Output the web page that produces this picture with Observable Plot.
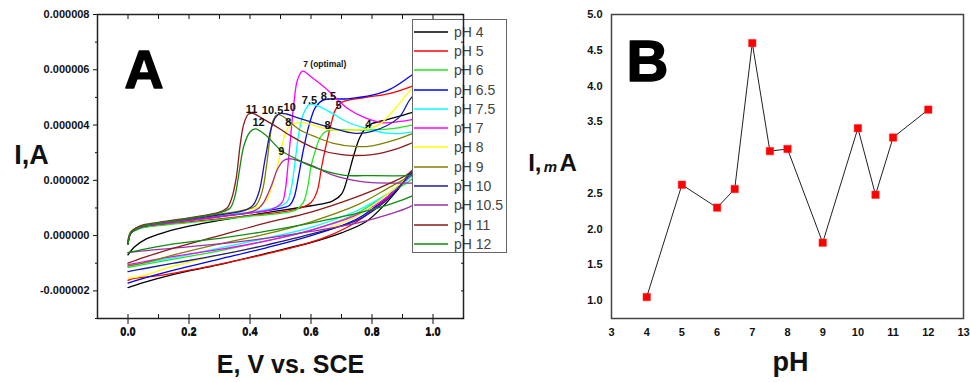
<!DOCTYPE html>
<html><head><meta charset="utf-8">
<script src="https://cdn.jsdelivr.net/npm/d3@7"></script>
<script src="https://cdn.jsdelivr.net/npm/@observablehq/plot@0.6"></script>
<style>
body{margin:0;background:#fff;}
#wrap{position:relative;width:970px;height:382px;overflow:hidden;font-family:"Liberation Sans",Arial,sans-serif;}
#wrap > *{position:absolute;}
#legend{left:412px;top:19px;width:95px;height:234px;border:1px solid #666;background:#fff;box-sizing:border-box;padding-top:2px;}
.lrow{height:19.3px;display:flex;align-items:center;font-size:14px;color:#444;}
.lrow svg{margin-left:1px;margin-right:6px;}
</style></head><body><div id="wrap"></div>
<script>
// ---------- Panel A data (current in µA, potential in V) ----------
const seriesNames = ["pH 4","pH 5","pH 6","pH 6.5","pH 7.5","pH 7","pH 8","pH 9","pH 10","pH 10.5","pH 11","pH 12"];
const seriesColors = ["#000000","#ff0000","#22e622","#0000ff","#00ffff","#ff00ff","#ffff00","#808000","#1a1aa0","#9b30a8","#8b1a1a","#108c10"];

const fwd_pH4 = [[0,-0.7],[0.02,-0.42],[0.06,-0.12],[0.12,0.12],[0.2,0.34],[0.3,0.55],[0.45,0.82],[0.6,1.08],[0.67,1.25],[0.7,1.5],[0.72,2.1],[0.74,2.9],[0.76,3.55],[0.78,3.9],[0.8,4.05],[0.85,4.2],[0.93,4.45],[1.0,4.7]];
const fwd_pH5 = [[0,-0.2],[0.01,0.1],[0.04,0.28],[0.1,0.38],[0.2,0.5],[0.3,0.6],[0.4,0.72],[0.5,0.85],[0.56,0.98],[0.6,1.2],[0.62,1.6],[0.635,2.5],[0.65,3.3],[0.665,4.0],[0.68,4.55],[0.7,4.82],[0.78,5.0],[0.86,5.15],[0.93,5.4],[1.0,5.7]];
const fwd_pH6 = [[0,-0.25],[0.01,0.08],[0.04,0.25],[0.1,0.36],[0.2,0.47],[0.3,0.58],[0.4,0.7],[0.5,0.8],[0.55,0.92],[0.575,1.2],[0.59,1.8],[0.6,2.5],[0.615,3.1],[0.63,3.55],[0.65,3.78],[0.68,3.83],[0.75,3.82],[0.85,3.85],[0.93,4.0],[1.0,4.2]];
const fwd_pH6_5 = [[0,-0.3],[0.01,0.1],[0.04,0.3],[0.1,0.42],[0.2,0.55],[0.3,0.68],[0.4,0.82],[0.48,0.95],[0.53,1.1],[0.545,1.4],[0.56,2.2],[0.575,3.1],[0.595,4.05],[0.615,4.65],[0.64,4.9],[0.72,4.95],[0.8,5.08],[0.86,5.3],[0.93,5.8],[1.0,6.3]];
const fwd_pH7_5 = [[0,-0.2],[0.01,0.15],[0.04,0.32],[0.1,0.45],[0.2,0.58],[0.3,0.72],[0.4,0.85],[0.48,1.0],[0.52,1.2],[0.535,1.7],[0.548,2.7],[0.56,3.7],[0.575,4.4],[0.595,4.75],[0.62,4.7],[0.67,4.42],[0.72,4.1],[0.78,3.88],[0.84,3.72],[0.9,3.7],[0.93,3.75],[1.0,3.9]];
const fwd_pH7 = [[0,-0.3],[0.01,0.1],[0.04,0.3],[0.1,0.42],[0.2,0.55],[0.3,0.68],[0.4,0.82],[0.47,0.95],[0.505,1.2],[0.515,1.6],[0.525,2.6],[0.535,3.8],[0.545,4.9],[0.555,5.6],[0.572,5.95],[0.6,5.75],[0.646,5.35],[0.72,4.6],[0.78,4.25],[0.84,4.08],[0.886,4.12],[0.93,4.2],[1.0,4.4]];
const fwd_pH8 = [[0,-0.2],[0.01,0.15],[0.04,0.32],[0.1,0.45],[0.2,0.6],[0.3,0.76],[0.38,0.9],[0.43,1.05],[0.455,1.3],[0.47,1.7],[0.483,2.2],[0.5,3.0],[0.51,3.5],[0.525,3.9],[0.545,4.05],[0.58,4.08],[0.62,3.95],[0.667,3.83],[0.75,3.82],[0.8,3.9],[0.83,4.07],[0.86,4.4],[0.886,4.73],[0.93,5.3],[1.0,5.9]];
const fwd_pH9 = [[0,-0.2],[0.01,0.15],[0.04,0.32],[0.1,0.45],[0.2,0.6],[0.3,0.78],[0.38,0.92],[0.42,1.1],[0.44,1.6],[0.455,2.6],[0.465,3.5],[0.475,4.15],[0.49,4.38],[0.51,4.3],[0.56,3.85],[0.62,3.55],[0.67,3.35],[0.75,3.22],[0.8,3.25],[0.886,3.5],[0.93,3.68],[1.0,4.0]];
const fwd_pH10 = [[0,-0.3],[0.01,0.1],[0.04,0.3],[0.1,0.44],[0.2,0.58],[0.3,0.75],[0.38,0.9],[0.41,1.1],[0.43,1.6],[0.45,2.8],[0.47,3.9],[0.485,4.3],[0.5,4.42],[0.52,4.4],[0.56,4.25],[0.667,3.9],[0.744,3.7],[0.8,3.77],[0.886,4.25],[0.93,5.0],[1.0,5.6]];
const fwd_pH10_5 = [[0,-0.2],[0.01,0.12],[0.04,0.3],[0.1,0.42],[0.2,0.56],[0.3,0.7],[0.4,0.85],[0.43,1.0],[0.445,1.2],[0.47,1.8],[0.49,2.4],[0.51,2.72],[0.53,2.78],[0.56,2.7],[0.6,2.55],[0.67,2.2],[0.75,1.98],[0.8,1.92],[0.9,1.9],[0.93,1.9],[1.0,2.0]];
const fwd_pH11 = [[0,-0.3],[0.01,0.12],[0.04,0.35],[0.1,0.48],[0.2,0.64],[0.3,0.85],[0.325,1.0],[0.34,1.35],[0.355,2.1],[0.368,3.3],[0.38,4.05],[0.395,4.4],[0.41,4.42],[0.45,4.18],[0.5,3.85],[0.526,3.66],[0.613,3.16],[0.7,2.93],[0.8,2.93],[0.886,3.16],[0.93,3.35],[1.0,3.7]];
const fwd_pH12 = [[0,-0.3],[0.01,0.1],[0.04,0.32],[0.1,0.46],[0.2,0.62],[0.3,0.82],[0.335,1.0],[0.35,1.4],[0.363,2.2],[0.38,3.25],[0.4,3.75],[0.417,3.86],[0.45,3.65],[0.5,3.1],[0.55,2.78],[0.59,2.56],[0.7,2.2],[0.8,2.17],[0.93,2.17],[1.0,2.2]];

const rev_pH4 = [[1.0,4.7],[0.96,2.6],[0.92,2.15],[0.88,1.6],[0.84,1.1],[0.78,0.5],[0.7,0.1],[0.6,-0.25],[0.45,-0.65],[0.3,-1.05],[0.15,-1.4],[0.05,-1.7],[0,-1.88]];
const rev_pH5 = [[1.0,5.7],[0.96,2.6],[0.92,2.1],[0.85,1.35],[0.75,0.5],[0.65,-0.05],[0.55,-0.4],[0.4,-0.8],[0.25,-1.15],[0.1,-1.45],[0.02,-1.55],[0,-1.62]];
const rev_pH6 = [[1.0,4.2],[0.96,2.4],[0.92,1.95],[0.85,1.5],[0.75,0.8],[0.6,0.2],[0.45,-0.2],[0.3,-0.55],[0.15,-0.85],[0.05,-1.05],[0,-1.15]];
const rev_pH6_5 = [[1.0,6.3],[0.96,2.7],[0.92,2.2],[0.85,1.4],[0.75,0.6],[0.6,0.0],[0.45,-0.45],[0.3,-0.85],[0.15,-1.25],[0.05,-1.55],[0,-1.72]];
const rev_pH7_5 = [[1.0,3.9],[0.96,2.5],[0.92,2.05],[0.85,1.5],[0.75,0.9],[0.6,0.3],[0.45,-0.1],[0.3,-0.45],[0.15,-0.8],[0.05,-1.0],[0,-1.1]];
const rev_pH7 = [[1.0,4.4],[0.96,2.55],[0.92,2.1],[0.85,1.4],[0.75,0.75],[0.6,0.2],[0.45,-0.2],[0.3,-0.5],[0.15,-0.75],[0.05,-0.95],[0,-1.05]];
const rev_pH8 = [[1.0,5.9],[0.96,2.6],[0.92,2.15],[0.85,1.5],[0.75,0.7],[0.6,0.05],[0.45,-0.35],[0.3,-0.7],[0.15,-1.1],[0.05,-1.45],[0,-1.55]];
const rev_pH9 = [[1.0,4.0],[0.96,2.55],[0.92,2.15],[0.85,1.7],[0.75,1.1],[0.6,0.5],[0.45,0.05],[0.3,-0.3],[0.15,-0.7],[0.05,-1.0],[0,-1.1]];
const rev_pH10 = [[1.0,5.6],[0.96,2.6],[0.92,2.15],[0.85,1.3],[0.75,0.55],[0.6,0.05],[0.45,-0.35],[0.3,-0.7],[0.15,-1.0],[0.05,-1.2],[0,-1.3]];
const rev_pH10_5 = [[1.0,2.0],[0.96,1.3],[0.92,1.02],[0.85,0.75],[0.75,0.45],[0.6,0.15],[0.45,-0.1],[0.3,-0.3],[0.15,-0.45],[0.05,-0.55],[0,-0.62]];
const rev_pH11 = [[1.0,3.7],[0.96,2.7],[0.92,2.25],[0.85,1.85],[0.75,1.4],[0.6,0.85],[0.45,0.45],[0.3,0.0],[0.15,-0.45],[0.05,-0.8],[0,-1.0]];
const rev_pH12 = [[1.0,2.2],[0.96,1.6],[0.92,1.38],[0.85,1.1],[0.75,0.8],[0.6,0.45],[0.45,0.15],[0.3,-0.1],[0.15,-0.3],[0.05,-0.5],[0,-0.62]];

const forwardScans = [fwd_pH4,fwd_pH5,fwd_pH6,fwd_pH6_5,fwd_pH7_5,fwd_pH7,fwd_pH8,fwd_pH9,fwd_pH10,fwd_pH10_5,fwd_pH11,fwd_pH12];
const reverseScans = [rev_pH4,rev_pH5,rev_pH6,rev_pH6_5,rev_pH7_5,rev_pH7,rev_pH8,rev_pH9,rev_pH10,rev_pH10_5,rev_pH11,rev_pH12];

const peakLabels = ["8.5","5","7.5","10","10.5","11","12","8","8","4","9"];
const peakLabelE = [0.657,0.69,0.595,0.53,0.474,0.405,0.428,0.526,0.654,0.788,0.503];
const peakLabelI = [5.04,4.71,4.9,4.64,4.53,4.56,4.09,4.1,3.98,4.02,3.04];
const optimalLabel = ["7 (optimal)"];
const optimalE = [0.645];
const optimalI = [6.2];

const aXMajor = [0,0.2,0.4,0.6,0.8,1.0];
const aXMinor = [-0.1,0.1,0.3,0.5,0.7,0.9];
const aXTickLabels = ["0.0","0.2","0.4","0.6","0.8","1.0"];
const aYMajor = [-2,0,2,4,6,8];
const aYMinor = [-3,-1,1,3,5,7];
const aYTickLabels = ["-0.000002","0.000000","0.000002","0.000004","0.000006","0.000008"];

// ---------- Panel B data ----------
const bPH = [4,5,6,6.5,7,7.5,8,9,10,10.5,11,12];
const bCurrent = [1.05,2.62,2.30,2.56,4.60,3.09,3.12,1.81,3.41,2.48,3.28,3.67];
const bXTicks = [3,4,5,6,7,8,9,10,11,12,13];
const bYTicks = [1.0,1.5,2.0,2.5,3.5,4.0,4.5,5.0];

// ---------- build ----------
const cvRows = [];
seriesNames.forEach((s, i) => {
  forwardScans[i].forEach(([E, I]) => cvRows.push({s, key: s + " fwd", E, I}));
  reverseScans[i].forEach(([E, I]) => cvRows.push({s, key: s + " rev", E, I}));
});
const labelRows = peakLabels.map((t, i) => ({t, E: peakLabelE[i], I: peakLabelI[i]}));
const optRows = optimalLabel.map((t, i) => ({t, E: optimalE[i], I: optimalI[i]}));
const bRows = bPH.map((p, i) => ({pH: p, I: bCurrent[i]}));

const font = "Liberation Sans, Arial, sans-serif";
const wrap = document.getElementById("wrap");

const dimsA = {width: 520, height: 382, marginLeft: 97, marginRight: 57, marginTop: 14, marginBottom: 64};
const styleA = {fontFamily: font, fontSize: "11px", fontWeight: "bold", background: "transparent", color: "#111", overflow: "visible"};
const allXTicks = aXMajor.concat(aXMinor);
const allYTicks = aYMajor.concat(aYMinor);

const plotA = Plot.plot({
  ...dimsA, style: styleA,
  x: {domain: [-0.1, 1.1], label: null},
  y: {domain: [-3, 8], label: null},
  color: {domain: seriesNames, range: seriesColors},
  marks: [
    Plot.line(cvRows, {x: "E", y: "I", z: "key", stroke: "s", strokeWidth: 1.3, curve: "catmull-rom"}),
    Plot.text(labelRows, {x: "E", y: "I", text: "t", fontSize: 11, fontWeight: "bold", fill: "#111"}),
    Plot.text(optRows, {x: "E", y: "I", text: "t", fontSize: 8.5, fontWeight: "bold", fill: "#111"}),
    Plot.axisY(aYMajor, {tickSize: 4, tickPadding: 4, tickFormat: d => aYTickLabels[aYMajor.indexOf(d)], label: null}),
    Plot.axisY(aYMinor, {tickSize: 2, tickFormat: () => "", label: null}),
    Plot.axisX(aXMajor, {tickSize: 0, tickPadding: 10, tickFormat: d => aXTickLabels[aXMajor.indexOf(d)], label: null}),
    Plot.axisX(allXTicks, {tickSize: 4, dy: -4, tickFormat: () => "", label: null}),
    Plot.axisX(allXTicks, {anchor: "top", tickSize: 4, dy: 4, tickFormat: () => "", label: null}),
    Plot.text(["A"], {text: d => d, frameAnchor: "top-left", dx: 27, dy: 56, textAnchor: "start", lineAnchor: "middle", fontSize: 54, fontWeight: 900, fill: "#000", stroke: "#000", strokeWidth: 1.5}),
    Plot.text(["I,A"], {text: d => d, frameAnchor: "left", dx: -66, dy: -11, textAnchor: "middle", lineAnchor: "middle", fontSize: 27, fontWeight: "bold", fill: "#111"}),
    Plot.text(["E, V vs. SCE"], {text: d => d, frameAnchor: "bottom", dx: 10, dy: 46, textAnchor: "middle", lineAnchor: "middle", fontSize: 25, fontWeight: "bold", fill: "#111"})
  ]
});
plotA.style.left = "0px"; plotA.style.top = "0px";
wrap.appendChild(plotA);

// legend
const legend = document.createElement("div");
legend.id = "legend";
seriesNames.forEach((s, i) => {
  const row = document.createElement("div");
  row.className = "lrow";
  row.innerHTML = `<svg width="34" height="4"><line x1="0" x2="34" y1="2" y2="2" stroke="${seriesColors[i]}" stroke-width="1.5"/></svg><span>${s}</span>`;
  legend.appendChild(row);
});
wrap.appendChild(legend);

// frame overlay (drawn over legend, as in the reference)
const overlayA = Plot.plot({
  ...dimsA, style: {...styleA, pointerEvents: "none"},
  x: {domain: [-0.1, 1.1], label: null},
  y: {domain: [-3, 8], label: null},
  marks: [
    Plot.frame({stroke: "#222", strokeWidth: 1.5}),
    Plot.axisY(allYTicks, {anchor: "right", tickSize: 3, dx: -3, tickFormat: () => "", label: null})
  ]
});
overlayA.style.left = "0px"; overlayA.style.top = "0px";
wrap.appendChild(overlayA);

// Panel B
const plotB = Plot.plot({
  width: 450, height: 382, marginLeft: 91, marginRight: 7, marginTop: 14, marginBottom: 64,
  style: {fontFamily: font, fontSize: "11px", fontWeight: "bold", background: "transparent", color: "#111", overflow: "visible"},
  x: {domain: [3, 13], label: null},
  y: {domain: [0.75, 5.0], label: null},
  marks: [
    Plot.frame({stroke: "#444", strokeWidth: 1.5}),
    Plot.axisX(bXTicks, {tickSize: 0, tickPadding: 10, tickFormat: d => String(d), label: null}),
    Plot.axisY(bYTicks, {tickSize: 0, tickPadding: 9, tickFormat: d => d.toFixed(1), label: null}),
    Plot.line(bRows, {x: "pH", y: "I", stroke: "#222", strokeWidth: 1}),
    Plot.dot(bRows, {x: "pH", y: "I", symbol: "square", r: 4.2, fill: "#ff0000", stroke: "#ff2a2a", strokeWidth: 0.5}),
    Plot.text(["B"], {text: d => d, frameAnchor: "top-left", dx: 15, dy: 48, textAnchor: "start", lineAnchor: "middle", fontSize: 58, fontWeight: 900, fill: "#000", stroke: "#000", strokeWidth: 1.5}),
    Plot.text(["pH"], {text: d => d, frameAnchor: "bottom", dx: 3, dy: 44, textAnchor: "middle", lineAnchor: "middle", fontSize: 27, fontWeight: "bold", fill: "#111"}),
    Plot.text(["I,"], {text: d => d, frameAnchor: "left", dx: -70, dy: -3, textAnchor: "end", lineAnchor: "middle", fontSize: 24, fontWeight: "bold", fill: "#111"}),
    Plot.text(["m"], {text: d => d, frameAnchor: "left", dx: -61, dy: 1, textAnchor: "middle", lineAnchor: "middle", fontSize: 15, fontStyle: "italic", fontWeight: "bold", fill: "#111"}),
    Plot.text(["A"], {text: d => d, frameAnchor: "left", dx: -52, dy: -3, textAnchor: "start", lineAnchor: "middle", fontSize: 24, fontWeight: "bold", fill: "#111"})
  ]
});
plotB.style.left = "520px"; plotB.style.top = "0px";
wrap.appendChild(plotB);
</script></body></html>
